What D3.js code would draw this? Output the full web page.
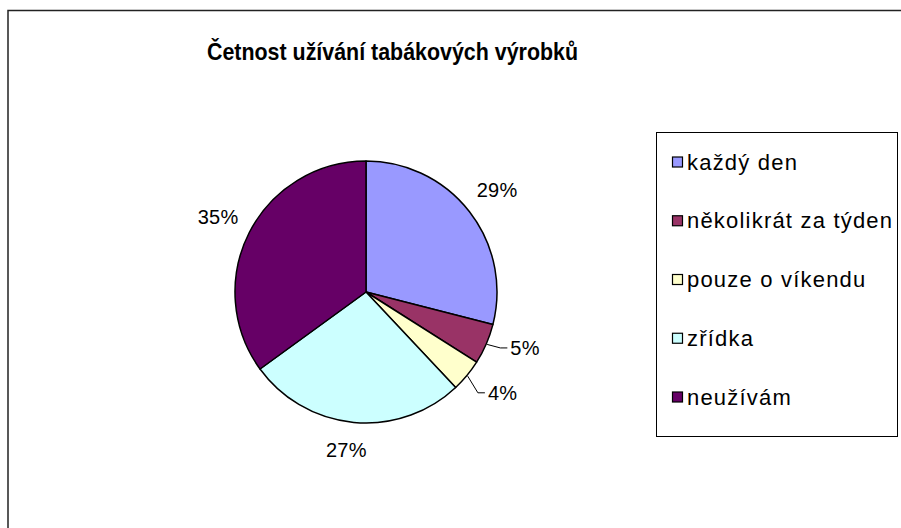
<!DOCTYPE html>
<html>

<head>
    <meta charset="utf-8">
    <title>Četnost užívání tabákových výrobků</title>
    <style>
        body {
            margin: 0;
            background: #fff;
        }

        svg text {
            font-family: "Liberation Sans", Arial, sans-serif;
            fill: #000;
        }

        .title {
            font-size: 24px;
            font-weight: bold;
        }

        .pct {
            font-size: 20px;
            letter-spacing: 0.3px;
        }

        .legend text {
            font-size: 22px;
            letter-spacing: 1.2px;
        }
    </style>
</head>

<body>
    <svg width="901" height="528"></svg>
    <script src="https://d3js.org/d3.v7.min.js"></script>
    <script>
        // data
        var categories = ["každý den", "několikrát za týden", "pouze o víkendu", "zřídka", "neužívám"];
        var values = [29, 5, 4, 27, 35];
        var colors = ["#9999ff", "#993366", "#ffffcc", "#ccffff", "#660066"];

        var svg = d3.select("svg"),
            width = 901,
            height = 528;

        // outer chart frame (runs off the right and bottom edge)
        svg.append("rect")
            .attr("x", 8)
            .attr("y", 10.5)
            .attr("width", 1000)
            .attr("height", 1000)
            .attr("fill", "#fff")
            .attr("stroke", "#222")
            .attr("stroke-width", 1.5);

        svg.append("text")
            .attr("class", "title")
            .attr("x", 207)
            .attr("y", 60)
            .attr("textLength", 371)
            .attr("lengthAdjust", "spacingAndGlyphs")
            .text("Četnost užívání tabákových výrobků");

        // pie
        var cx = 366, cy = 292, radius = 131;
        var pie = d3.pie().sort(null).value(function (d) { return d; });
        var arcs = pie(values);
        var arc = d3.arc().innerRadius(0).outerRadius(radius);
        var labelArc = d3.arc().innerRadius(166).outerRadius(166);

        var g = svg.append("g").attr("transform", "translate(" + cx + "," + cy + ")");

        g.selectAll("path")
            .data(arcs)
            .enter().append("path")
            .attr("d", arc)
            .attr("fill", function (d, i) { return colors[i]; })
            .attr("stroke", "#000")
            .attr("stroke-width", 1.5)
            .attr("stroke-linejoin", "round");

        // small slices get a leader line and are pushed up a bit
        var nudge = [[0, 0], [-8, -10], [-6, -5], [-4, -7], [0, 0]];
        function midAngle(d) { return (d.startAngle + d.endAngle) / 2; }

        arcs.forEach(function (d, i) {
            var c = labelArc.centroid(d);
            var x = c[0] + nudge[i][0], y = c[1] + nudge[i][1];
            var small = d.value < 10;
            if (small) {
                var a = midAngle(d);
                var p0 = [Math.sin(a) * (radius + 1), -Math.cos(a) * (radius + 1)];
                g.append("polyline")
                    .attr("points", [p0, [x - 10, y], [x - 3, y]].map(function (p) { return p.join(","); }).join(" "))
                    .attr("fill", "none")
                    .attr("stroke", "#000")
                    .attr("stroke-width", 1);
            }
            g.append("text")
                .attr("class", "pct")
                .attr("x", x)
                .attr("y", y)
                .attr("dy", "0.35em")
                .attr("text-anchor", small ? "start" : "middle")
                .text(d3.format(".0f")(d.value) + "%");
        });

        // legend
        var ly = d3.scalePoint().domain(categories).range([162, 397]);
        var legend = svg.append("g").attr("class", "legend");
        legend.append("rect")
            .attr("x", 656.5)
            .attr("y", 132.5)
            .attr("width", 241)
            .attr("height", 304)
            .attr("fill", "#fff")
            .attr("stroke", "#000")
            .attr("stroke-width", 1);

        var items = legend.selectAll("g.item")
            .data(categories)
            .enter().append("g")
            .attr("class", "item")
            .attr("transform", function (d) { return "translate(672," + ly(d) + ")"; });
        items.append("rect")
            .attr("x", 0.5)
            .attr("y", -5)
            .attr("width", 10)
            .attr("height", 10)
            .attr("fill", function (d, i) { return colors[i]; })
            .attr("stroke", "#000")
            .attr("stroke-width", 1.2);
        items.append("text")
            .attr("x", 15)
            .attr("y", 0)
            .attr("dy", "0.35em")
            .text(function (d) { return d; });
    </script>
</body>

</html>
